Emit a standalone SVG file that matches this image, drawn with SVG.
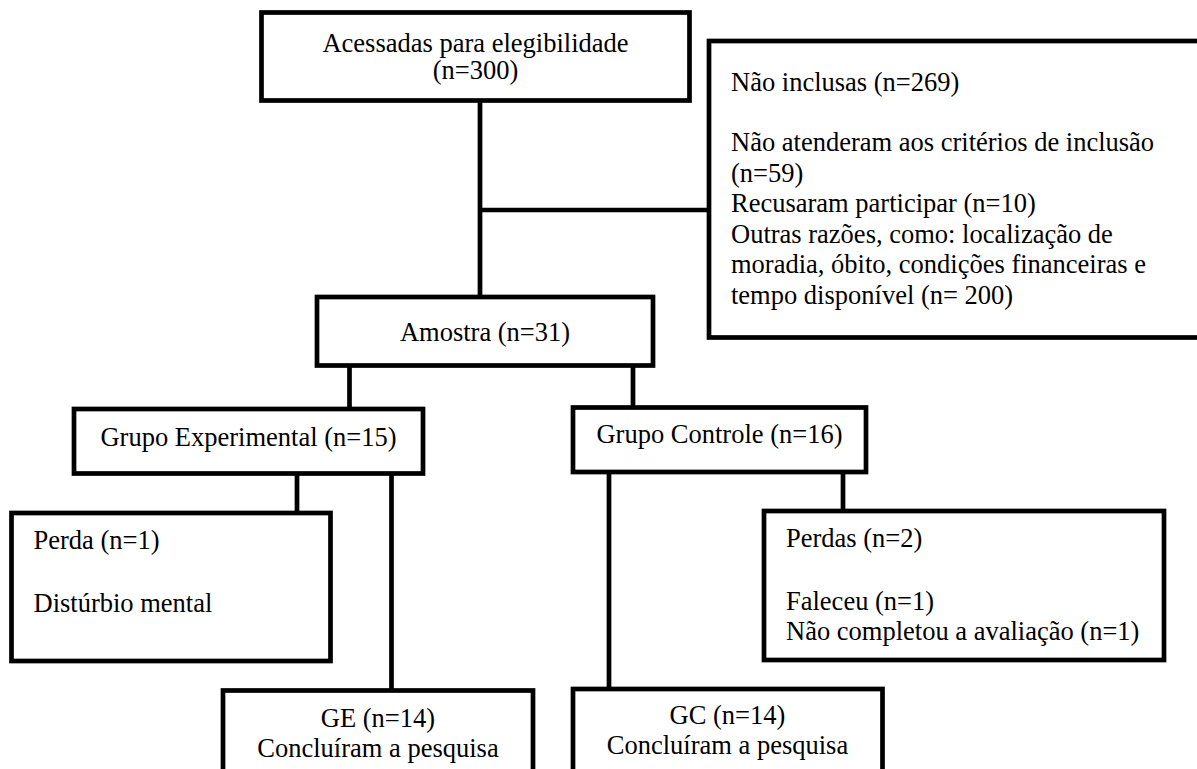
<svg xmlns="http://www.w3.org/2000/svg" width="1197" height="769" viewBox="0 0 1197 769">
<style>
.box{fill:#fff;stroke:#000;stroke-width:4.7}
.ln{stroke:#000;stroke-width:4.7;fill:none}
text{font-family:"Liberation Serif","Times New Roman",serif;font-size:26.5px;fill:#000}
.c{text-anchor:middle}
</style>
<rect width="1197" height="769" fill="#fff"/>
<g id="connectors">
<line class="ln" x1="480" y1="100" x2="480" y2="298"/>
<line class="ln" x1="480" y1="210" x2="709" y2="210"/>
<line class="ln" x1="349.5" y1="367" x2="349.5" y2="409"/>
<line class="ln" x1="633" y1="367" x2="633" y2="408"/>
<line class="ln" x1="297" y1="474" x2="297" y2="513"/>
<line class="ln" x1="391.5" y1="474" x2="391.5" y2="690"/>
<line class="ln" x1="609" y1="472" x2="609" y2="689"/>
<line class="ln" x1="843" y1="472" x2="843" y2="511"/>
</g>
<g id="n1">
<rect class="box" x="261.5" y="12.5" width="428" height="88"/>
<text class="c" x="475.5" y="52">Acessadas para elegibilidade</text>
<text class="c" x="475.5" y="79">(n=300)</text>
</g>
<g id="n2">
<rect class="box" x="709" y="41" width="520" height="296.5"/>
<text x="731" y="90.5">Não inclusas (n=269)</text>
<text x="731" y="151">Não atenderam aos critérios de inclusão</text>
<text x="731" y="181.5">(n=59)</text>
<text x="731" y="212">Recusaram participar (n=10)</text>
<text x="731" y="242.5">Outras razões, como: localização de</text>
<text x="731" y="273">moradia, óbito, condições financeiras e</text>
<text x="731" y="303.5">tempo disponível (n= 200)</text>
</g>
<g id="n3">
<rect class="box" x="317" y="297" width="336" height="68.5"/>
<text class="c" x="485" y="341">Amostra (n=31)</text>
</g>
<g id="n4">
<rect class="box" x="74" y="409" width="349" height="64.5"/>
<text class="c" x="248.5" y="445.5">Grupo Experimental (n=15)</text>
</g>
<g id="n5">
<rect class="box" x="573" y="407.5" width="293" height="64.5"/>
<text class="c" x="719.5" y="443">Grupo Controle (n=16)</text>
</g>
<g id="n6">
<rect class="box" x="11.5" y="513" width="319" height="148"/>
<text x="33.5" y="549">Perda (n=1)</text>
<text x="33.5" y="611.5">Distúrbio mental</text>
</g>
<g id="n7">
<rect class="box" x="764" y="511" width="400" height="149"/>
<text x="786" y="547">Perdas (n=2)</text>
<text x="786" y="610">Faleceu (n=1)</text>
<text x="786" y="640">Não completou a avaliação (n=1)</text>
</g>
<g id="n8">
<rect class="box" x="223" y="690.5" width="310" height="100"/>
<text class="c" x="378" y="727">GE (n=14)</text>
<text class="c" x="378" y="757">Concluíram a pesquisa</text>
</g>
<g id="n9">
<rect class="box" x="573" y="689" width="309.5" height="100"/>
<text class="c" x="727.5" y="724">GC (n=14)</text>
<text class="c" x="727.5" y="754">Concluíram a pesquisa</text>
</g>
</svg>
